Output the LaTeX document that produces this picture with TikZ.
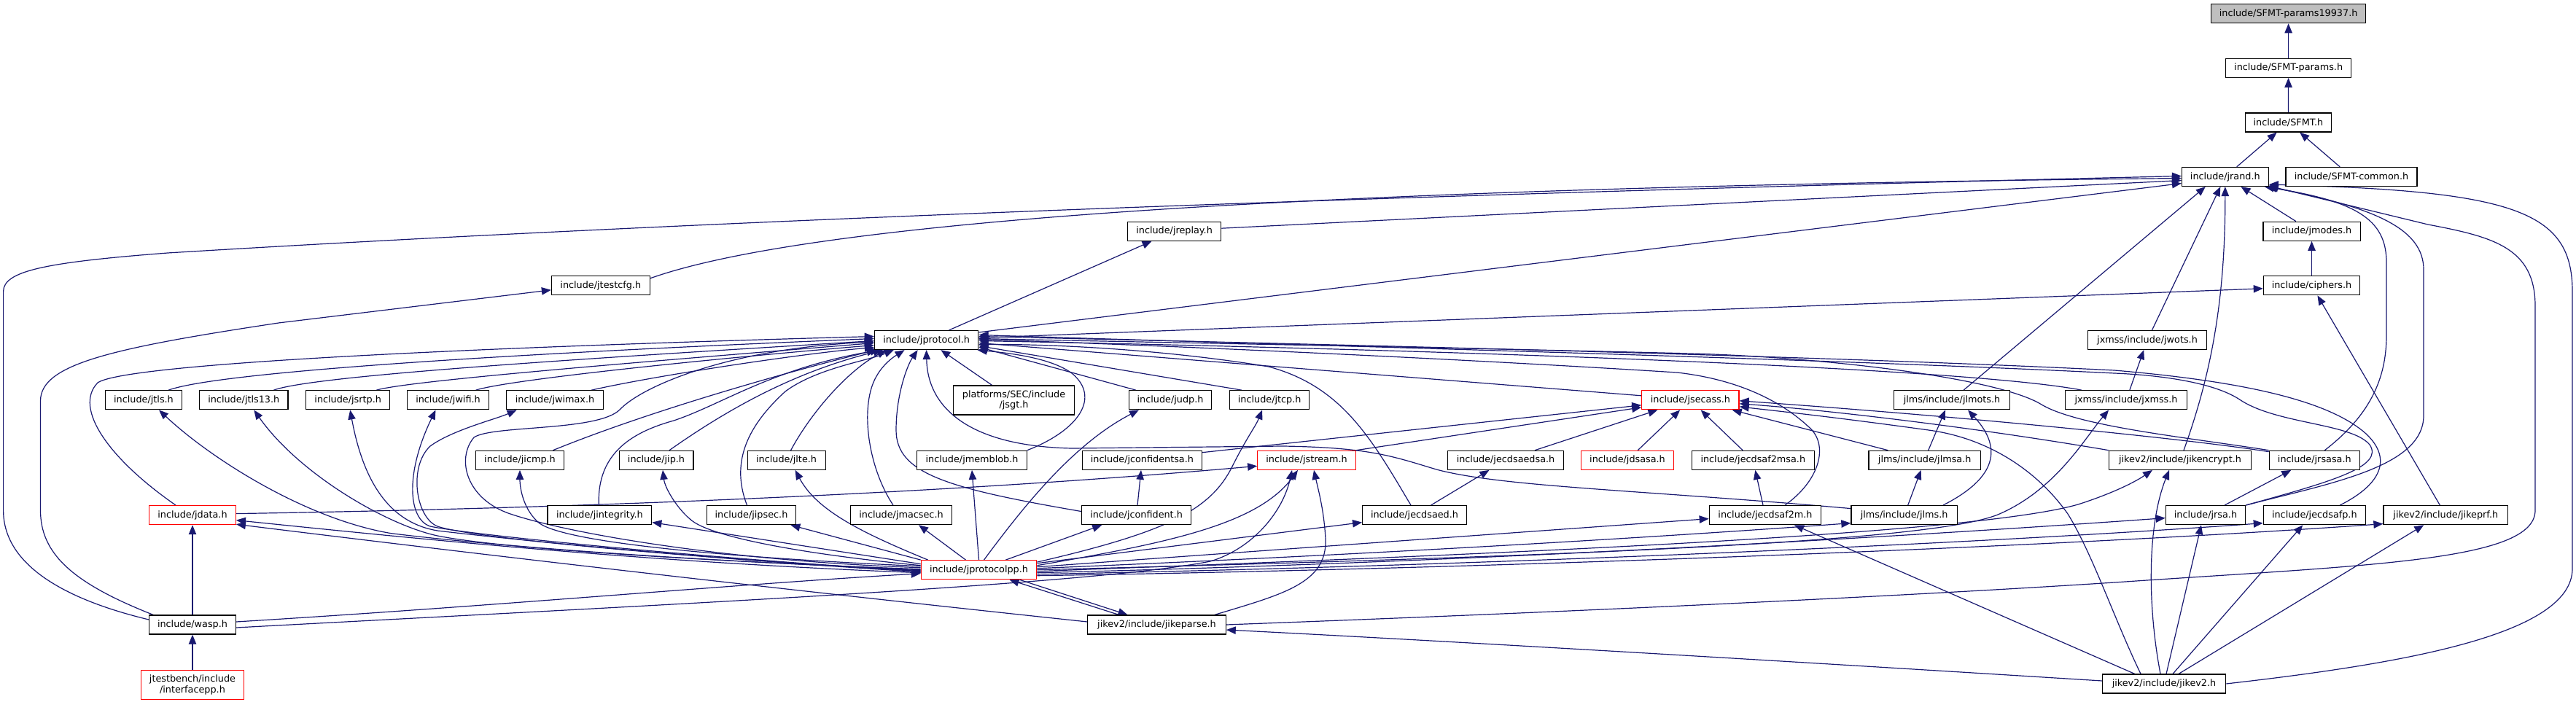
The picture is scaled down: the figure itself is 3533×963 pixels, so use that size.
\documentclass[tikz,border=0pt]{standalone}
\usepackage{fontspec}
\setmainfont{DejaVu Sans}
\usetikzlibrary{arrows.meta,calc}
\pgfdeclarelayer{bg}
\pgfsetlayers{bg,main}
\definecolor{edgecol}{HTML}{191970}
\definecolor{rootfill}{HTML}{BFBFBF}
\definecolor{truncred}{HTML}{FF0000}
\tikzset{
  nd/.style={draw=black, line width=0.6pt, fill=white, inner sep=0pt,
    minimum height=13pt, font=\fontsize{6.4}{7.15}\selectfont, align=center},
  trunc/.style={draw=truncred},
  boxw/.style={minimum width=#1*0.5pt},
  twoline/.style={minimum height=20pt},
  edge/.style={draw=edgecol, line width=0.6pt, -{Triangle[length=6.5pt,width=5.2pt]}},
}
\begin{document}
\begin{tikzpicture}[x=0.5pt,y=-0.5pt]
\useasboundingbox (0,0) rectangle (3533,963);
% ---------- nodes ----------
\node[nd,fill=rootfill,boxw=212] (sfmt19937) at (3138.6,18.7) {include/SFMT-params19937.h};
\node[nd,boxw=172] (sfmtparams) at (3138.6,93.3) {include/SFMT-params.h};
\node[nd,boxw=117.5] (sfmt) at (3138.4,168) {include/SFMT.h};
\node[nd,boxw=118.7] (jrand) at (3051.8,242.5) {include/jrand.h};
\node[nd,boxw=180] (sfmtcommon) at (3225,242.5) {include/SFMT-common.h};
\node[nd,boxw=128.2] (jreplay) at (1610.6,317.2) {include/jreplay.h};
\node[nd,boxw=133.2] (jmodes) at (3170.5,317.2) {include/jmodes.h};
\node[nd,boxw=134.7] (jtestcfg) at (823.8,391.8) {include/jtestcfg.h};
\node[nd,boxw=132.4] (ciphers) at (3170.5,391.8) {include/ciphers.h};
\node[nd,boxw=142.4] (jprotocol) at (1270.6,466.5) {include/jprotocol.h};
\node[nd,boxw=163] (jwots) at (2945,466.5) {jxmss/include/jwots.h};
% rank 7
\node[nd,boxw=105.6] (jtls) at (197,548.8) {include/jtls.h};
\node[nd,boxw=121.3] (jtlsxiii) at (334.3,548.8) {include/jtls13.h};
\node[nd,boxw=114.8] (jsrtp) at (477.2,548.8) {include/jsrtp.h};
\node[nd,boxw=111.6] (jwifi) at (614.5,548.8) {include/jwifi.h};
\node[nd,boxw=133.6] (jwimax) at (761,548.8) {include/jwimax.h};
\node[nd,boxw=165.7,twoline] (jsgt) at (1390.5,549) {platforms/SEC/include\\/jsgt.h};
\node[nd,boxw=113.6] (judp) at (1605,548.8) {include/judp.h};
\node[nd,boxw=109.3] (jtcp) at (1741.2,548.8) {include/jtcp.h};
\node[nd,trunc,boxw=133.3] (jsecass) at (2318.4,548.8) {include/jsecass.h};
\node[nd,boxw=158.4] (jlmots) at (2677,548.8) {jlms/include/jlmots.h};
\node[nd,boxw=166.5] (jxmss) at (2916,548.8) {jxmss/include/jxmss.h};
% rank 8
\node[nd,boxw=121.7] (jicmp) at (713,631.3) {include/jicmp.h};
\node[nd,boxw=101.8] (jip) at (900,631.3) {include/jip.h};
\node[nd,boxw=107] (jlte) at (1078.6,631.3) {include/jlte.h};
\node[nd,boxw=150.4] (jmemblob) at (1333,631.3) {include/jmemblob.h};
\node[nd,boxw=163.8] (jconfidentsa) at (1566.4,631.3) {include/jconfidentsa.h};
\node[nd,trunc,boxw=134.5] (jstream) at (1792,631.3) {include/jstream.h};
\node[nd,boxw=158.8] (jecdsaedsa) at (2065,631.3) {include/jecdsaedsa.h};
\node[nd,trunc,boxw=126.7] (jdsasa) at (2232,631.3) {include/jdsasa.h};
\node[nd,boxw=168.2] (jecdsafmsa) at (2404.3,631.3) {include/jecdsaf2msa.h};
\node[nd,boxw=153.5] (jlmsa) at (2639.7,631.3) {jlms/include/jlmsa.h};
\node[nd,boxw=194.8] (jikencrypt) at (2990,631.3) {jikev2/include/jikencrypt.h};
\node[nd,boxw=124] (jrsasa) at (3174.3,631.3) {include/jrsasa.h};
% rank 9
\node[nd,trunc,boxw=118.6] (jdata) at (264,706.6) {include/jdata.h};
\node[nd,boxw=142.7] (jintegrity) at (822.4,706.6) {include/jintegrity.h};
\node[nd,boxw=122.5] (jipsec) at (1030.5,706.6) {include/jipsec.h};
\node[nd,boxw=139] (jmacsec) at (1236,706.6) {include/jmacsec.h};
\node[nd,boxw=149.6] (jconfident) at (1558.6,706.6) {include/jconfident.h};
\node[nd,boxw=142.7] (jecdsaed) at (1940,706.6) {include/jecdsaed.h};
\node[nd,boxw=153.5] (jecdsafm) at (2421,706.6) {include/jecdsaf2m.h};
\node[nd,boxw=145.4] (jlms) at (2611.6,706.6) {jlms/include/jlms.h};
\node[nd,boxw=109.4] (jrsa) at (3025,706.6) {include/jrsa.h};
\node[nd,boxw=140] (jecdsafp) at (3174.3,706.6) {include/jecdsafp.h};
\node[nd,boxw=170.7] (jikeprf) at (3354.3,706.6) {jikev2/include/jikeprf.h};
% lower ranks
\node[nd,trunc,boxw=158.5] (jprotocolpp) at (1342.5,781.7) {include/jprotocolpp.h};
\node[nd,boxw=118.6] (wasp) at (264,857) {include/wasp.h};
\node[nd,boxw=189.4] (jikeparse) at (1586.5,857) {jikev2/include/jikeparse.h};
\node[nd,trunc,boxw=141.2,twoline] (jtestbench) at (264,939.5) {jtestbench/include\\/interfacepp.h};
\node[nd,boxw=169.3] (jikev) at (2968,938) {jikev2/include/jikev2.h};

% ---------- edges ----------
\begin{pgfonlayer}{bg}
% top chain
\draw[edge] (sfmtparams) -- (sfmt19937);
\draw[edge] (sfmt) -- (sfmtparams);
\draw[edge] (jrand) -- (sfmt);
\draw[edge] (sfmtcommon) -- (sfmt);
\draw[edge] (jmodes) -- (jrand);
\draw[edge] (ciphers) -- (jmodes);
\draw[edge] (jwots) -- (jrand);
\draw[edge] (jxmss) -- (jwots);
\draw[edge] (jikeprf) -- (ciphers);
\draw[edge] (jprotocol) -- (jreplay);
% into jrand
\draw[edge] ($(jikencrypt.north)+(5,0)$) .. controls (3030,520) and (3052,420) .. (jrand.south);
\draw[edge] ($(jlmots.north)+(16,0)$) -- ($(jrand.south)+(-27,0)$);
\draw[edge] ($(jrsasa.north)+(14,0)$) .. controls (3250,570) and (3273,520) .. (3273,460) -- (3273,360) .. controls (3273,300) and (3230,276) .. ($(jrand.south east)+(-6,0)$);
\draw[edge] (jrsa.north east) .. controls (3200,662) and (3324,640) .. (3324,570) -- (3324,370) .. controls (3324,315) and (3260,285) .. ($(jrand.south east)+(-2,0)$);
\draw[edge] (jikeparse.east) .. controls (2300,834) and (2700,812) .. (2900,799) .. controls (3250,775) and (3477,770) .. (3477,700) -- (3477,420) .. controls (3477,340) and (3420,325) .. (3330,308) -- ($(jrand.south east)+(0,-1)$);
\draw[edge] (jikev.east) .. controls (3300,910) and (3528,870) .. (3528,780) -- (3528,400) .. controls (3528,290) and (3450,262) .. ($(jrand.south east)+(0,-3)$);
\draw[edge] ($(wasp.west)+(0,-7)$) .. controls (100,825) and (4.6,780) .. (4.6,700) -- (4.6,400) .. controls (4.6,372) and (60,360) .. (230,347) .. controls (1000,300) and (2000,265) .. ($(jrand.west)+(0,-1)$);
\draw[edge] ($(wasp.north west)+(6,0)$) .. controls (100,800) and (55.5,760) .. (55.5,700) -- (55.5,550) .. controls (55.5,500) and (150,478) .. (382,443) -- ($(jtestcfg.west)+(0,6)$);
\draw[edge] ($(jtestcfg.east)+(0,-10)$) .. controls (1150,290) and (2000,255) .. ($(jrand.west)+(0,2)$);
\draw[edge] ($(jreplay.east)+(0,-4)$) -- ($(jrand.west)+(0,5)$);
\draw[edge] ($(jprotocol.north east)+(0,3)$) -- ($(jrand.west)+(0,9)$);
\draw[edge] ($(jprotocol.east)+(0,-3)$) -- ($(ciphers.west)+(0,4)$);
% into jprotocol
\draw[edge] ($(jdata.north)+(-23,0)$) .. controls (150,630) and (100,560) .. (134,525) .. controls (170,500) and (600,478) .. ($(jprotocol.west)+(0,-5)$);
\draw[edge] ($(jtls.north)+(34,0)$) .. controls (300,510) and (700,485) .. ($(jprotocol.west)+(0,-2)$);
\draw[edge] ($(jtlsxiii.north)+(41,0)$) .. controls (430,515) and (800,492) .. ($(jprotocol.west)+(0,1)$);
\draw[edge] ($(jsrtp.north)+(39,0)$) .. controls (560,522) and (900,495) .. ($(jprotocol.west)+(0,4)$);
\draw[edge] ($(jwifi.north)+(38,0)$) .. controls (700,520) and (1000,490) .. ($(jprotocol.west)+(0,7)$);
\draw[edge] ($(jwimax.north)+(50,0)$) .. controls (900,515) and (1100,485) .. ($(jprotocol.west)+(0,10)$);
\draw[edge] ($(jicmp.north east)+(-16,0)$) .. controls (900,560) and (1100,505) .. ($(jprotocol.south west)+(3,0)$);
\draw[edge] ($(jintegrity.north)+(-1,0)$) .. controls (818,620) and (870,592) .. (924,577) .. controls (990,555) and (1060,505) .. ($(jprotocol.south west)+(8,0)$);
\draw[edge] ($(jip.north)+(18,0)$) .. controls (1000,560) and (1090,510) .. ($(jprotocol.south west)+(12,0)$);
\draw[edge] ($(jlte.north)+(6,0)$) .. controls (1110,570) and (1160,510) .. ($(jprotocol.south west)+(17,0)$);
\draw[edge] ($(jipsec.north)+(-6,0)$) .. controls (1000,630) and (1030,580) .. (1077,537) .. controls (1120,505) and (1190,495) .. ($(jprotocol.south west)+(27,0)$);
\draw[edge] ($(jmacsec.north)+(-11,0)$) .. controls (1190,640) and (1180,560) .. (1200,520) .. controls (1210,500) and (1225,490) .. ($(jprotocol.south)+(-30,0)$);
\draw[edge] ($(jconfident.west)+(0,-5)$) .. controls (1300,670) and (1229,650) .. (1229,590) .. controls (1229,540) and (1245,500) .. ($(jprotocol.south)+(-12,0)$);
\draw[edge] ($(jlms.west)+(0,-9)$) .. controls (2250,672) and (2060,668) .. (1970,644) .. controls (1910,626) and (1880,614) .. (1760,612) -- (1470,615) .. controls (1330,612) and (1272,560) .. (jprotocol.south);
\draw[edge] (jmemblob.north east) .. controls (1480,590) and (1510,545) .. (1470,512) .. controls (1440,490) and (1380,484) .. ($(jprotocol.south east)+(-2,0)$);
\draw[edge] (jsgt) -- (jprotocol);
\draw[edge] ($(judp.north)+(-47,0)$) -- ($(jprotocol.south east)+(0,-4)$);
\draw[edge] ($(jtcp.north)+(-38,0)$) -- ($(jprotocol.east)+(0,8)$);
\draw[edge] ($(jsecass.west)+(0,-6)$) -- ($(jprotocol.east)+(0,4)$);
\draw[edge] ($(jxmss.north west)+(23,0)$) .. controls (2700,505) and (2000,480) .. ($(jprotocol.east)+(0,1)$);
\draw[edge] ($(jecdsafm.north)+(27,0)$) .. controls (2495,660) and (2510,610) .. (2480,585) .. controls (2440,548) and (2380,520) .. (2300,511) .. controls (2000,492) and (1600,474) .. ($(jprotocol.east)+(0,-1)$);
\draw[edge] ($(jecdsaed.north)+(-5,0)$) .. controls (1880,600) and (1840,530) .. (1740,503) .. controls (1600,480) and (1450,472) .. ($(jprotocol.east)+(0,6)$);
\draw[edge] (jrsasa.north west) .. controls (3000,600) and (2850,585) .. (2800,555) .. controls (2740,518) and (2500,490) .. (2320,485) .. controls (2000,477) and (1600,470) .. ($(jprotocol.east)+(0,-2)$);
\draw[edge] ($(jecdsafp.north)+(35,0)$) .. controls (3265,665) and (3282,630) .. (3245,595) .. controls (3200,555) and (3100,525) .. (2900,508) .. controls (2500,488) and (1800,472) .. ($(jprotocol.east)+(0,-5)$);
\draw[edge] (jrsa.north east) .. controls (3200,660) and (3270,640) .. (3250,610) .. controls (3225,580) and (3120,582) .. (3070,547) .. controls (3030,522) and (2950,514) .. (2900,512) .. controls (2500,492) and (1800,474) .. ($(jprotocol.east)+(0,-7)$);
% from jprotocolpp
\draw[edge] ($(jprotocolpp.west)+(0,-3)$) .. controls (1000,770) and (780,732) .. (700,705) .. controls (640,685) and (625,630) .. (650,600) .. controls (675,583) and (820,592) .. (850,562) .. controls (880,530) and (1000,478) .. ($(jprotocol.west)+(0,2.5)$);
\draw[edge] ($(jprotocolpp.west)+(0,-1)$) .. controls (1000,772) and (700,752) .. (536,731.6) .. controls (420,712) and (290,630) .. ($(jtls.south)+(21,0)$);
\draw[edge] (jprotocolpp.west) .. controls (1000,770) and (700,755) .. (600,735) .. controls (530,720) and (410,650) .. ($(jtlsxiii.south)+(14,0)$);
\draw[edge] ($(jprotocolpp.west)+(0,1)$) .. controls (1000,770) and (700,740) .. (600,728) .. controls (540,718) and (500,670) .. ($(jsrtp.south)+(3,0)$);
\draw[edge] ($(jprotocolpp.west)+(0,2)$) .. controls (1000,768) and (650,735) .. (590,722) .. controls (560,712) and (555,650) .. ($(jwifi.south)+(-17,0)$);
\draw[edge] ($(jprotocolpp.west)+(0,3)$) .. controls (1000,768) and (650,740) .. (600,722) .. controls (570,710) and (560,640) .. (590,612) .. controls (620,590) and (680,575) .. ($(jwimax.south west)+(15,0)$);
\draw[edge] ($(jprotocolpp.west)+(0,-5)$) .. controls (1000,765) and (780,745) .. (740,718) .. controls (718,700) and (713,670) .. (jicmp.south);
\draw[edge] ($(jprotocolpp.west)+(0,-6)$) .. controls (1100,760) and (980,737) .. (950,715) .. controls (930,700) and (912,670) .. ($(jip.south)+(9,0)$);
\draw[edge] ($(jprotocolpp.north west)+(10,0)$) .. controls (1180,730) and (1120,700) .. ($(jlte.south)+(12,0)$);
\draw[edge] ($(jprotocolpp.west)+(0,-8)$) -- ($(jintegrity.east)+(0,10)$);
\draw[edge] (jprotocolpp.north west) -- ($(jipsec.south east)+(-8,0)$);
\draw[edge] ($(jprotocolpp.north)+(-18,0)$) -- ($(jmacsec.south)+(24,0)$);
\draw[edge] (jprotocolpp.north) -- (jmemblob.south);
\draw[edge] ($(jprotocolpp.north)+(7,0)$) .. controls (1400,700) and (1470,610) .. ($(judp.south)+(-43,0)$);
\draw[edge] ($(jprotocolpp.north east)+(-43,0)$) -- ($(jconfident.south west)+(28,0)$);
\draw[edge] ($(jprotocolpp.north east)+(0,3)$) .. controls (1600,730) and (1660,700) .. (1690,640) .. controls (1710,600) and (1722,585) .. ($(jtcp.south)+(-10,0)$);
\draw[edge] ($(jprotocolpp.east)+(0,-6)$) .. controls (1600,745) and (1725,720) .. ($(jstream.south)+(-12,0)$);
\draw[edge] ($(jprotocolpp.east)+(0,-9)$) -- ($(jecdsaed.west)+(0,10)$);
\draw[edge] ($(jprotocolpp.east)+(0,-4)$) -- ($(jecdsafm.west)+(0,5)$);
\draw[edge] ($(jprotocolpp.east)+(0,-2)$) .. controls (1900,760) and (2300,735) .. ($(jlms.west)+(0,11)$);
\draw[edge] (jprotocolpp.east) .. controls (2200,762) and (2650,742) .. (2740,706) .. controls (2820,672) and (2860,600) .. ($(jxmss.south west)+(60,0)$);
\draw[edge] ($(jprotocolpp.east)+(0,2)$) .. controls (2000,762) and (2700,735) .. (2850,692) .. controls (2900,676) and (2930,660) .. ($(jikencrypt.south west)+(60,0)$);
\draw[edge] ($(jprotocolpp.east)+(0,4)$) .. controls (2000,772) and (2600,737) .. ($(jrsa.west)+(0,4)$);
\draw[edge] ($(jprotocolpp.east)+(0,6)$) .. controls (2000,777) and (2700,747) .. ($(jecdsafp.west)+(0,11)$);
\draw[edge] ($(jprotocolpp.east)+(0,8)$) .. controls (2000,781) and (2800,752) .. ($(jikeprf.west)+(0,12)$);
\draw[edge] ($(jprotocolpp.west)+(0,4)$) .. controls (900,772) and (600,742) .. ($(jdata.east)+(0,7)$);
% jdata, wasp, jtestbench
\draw[edge] ($(jikeparse.west)+(0,-4)$) .. controls (1200,822) and (800,778) .. ($(jdata.south east)+(0,-1)$);
\draw[edge] ($(jdata.east)+(0,-2)$) .. controls (800,697) and (1300,677) .. ($(jstream.west)+(0,8)$);
\draw[edge] (wasp) -- (jdata);
\draw[edge] (jtestbench) -- (wasp);
\draw[edge] ($(wasp.east)+(0,-4)$) .. controls (700,830) and (1000,802) .. ($(jprotocolpp.west)+(0,5)$);
\draw[edge] ($(wasp.east)+(0,4)$) .. controls (900,830) and (1500,802) .. (1660,770) .. controls (1720,752) and (1760,700) .. ($(jstream.south)+(-20,0)$);
% jikeparse
\draw[edge] ($(jikeparse.north)+(-52,0)$) -- ($(jprotocolpp.south)+(42,0)$);
\draw[edge] ($(jprotocolpp.south)+(56,0)$) -- ($(jikeparse.north)+(-40,0)$);
\draw[edge] ($(jikeparse.north east)+(-16,0)$) .. controls (1760,815) and (1820,800) .. (1818,740) .. controls (1816,700) and (1808,672) .. ($(jstream.south)+(10,0)$);
% jikev2
\draw[edge] ($(jikev.west)+(0,-4)$) .. controls (2500,910) and (2000,880) .. ($(jikeparse.east)+(0,7)$);
\draw[edge] ($(jikev.north)+(-32,0)$) .. controls (2900,850) and (2870,760) .. (2836,705) .. controls (2790,640) and (2720,600) .. (2645,590) .. controls (2500,570) and (2420,562) .. ($(jsecass.east)+(0,9)$);
\draw[edge] ($(jikev.north west)+(45,0)$) -- ($(jecdsafm.south)+(40,0)$);
\draw[edge] ($(jikev.north)+(-5,0)$) .. controls (2945,830) and (2945,720) .. ($(jikencrypt.south)+(-15,0)$);
\draw[edge] ($(jikev.north)+(3,0)$) -- ($(jrsa.south)+(-6,0)$);
\draw[edge] ($(jikev.north)+(12,0)$) -- ($(jecdsafp.south)+(-16,0)$);
\draw[edge] ($(jikev.north)+(20,0)$) -- ($(jikeprf.south)+(-30,0)$);
% jsecass family
\draw[edge] ($(jrsa.north)+(26,0)$) -- ($(jrsasa.south)+(-32,0)$);
\draw[edge] (jikencrypt.north west) .. controls (2700,585) and (2500,562) .. ($(jsecass.east)+(0,5)$);
\draw[edge] ($(jrsasa.north west)+(0,2)$) .. controls (3000,602) and (2700,572) .. ($(jsecass.east)+(0,1)$);
\draw[edge] ($(jlmsa.north west)+(27,0)$) -- ($(jsecass.south east)+(-10,0)$);
\draw[edge] ($(jlmsa.north)+(5,0)$) -- ($(jlmots.south)+(-9,0)$);
\draw[edge] (jlms) -- (jlmsa);
\draw[edge] ($(jlms.north east)+(-20,0)$) .. controls (2730,660) and (2752,620) .. ($(jlmots.south)+(22,0)$);
\draw[edge] (jecdsafmsa) -- (jsecass);
\draw[edge] (jecdsafm) -- (jecdsafmsa);
\draw[edge] (jdsasa) -- (jsecass);
\draw[edge] ($(jecdsaedsa.north)+(40,0)$) -- ($(jsecass.south)+(-45,0)$);
\draw[edge] (jecdsaed) -- (jecdsaedsa);
\draw[edge] (jstream.north east) -- ($(jsecass.west)+(0,10)$);
\draw[edge] ($(jconfidentsa.north east)+(0,3)$) -- ($(jsecass.west)+(0,7)$);
\draw[edge] (jconfident) -- (jconfidentsa);
\end{pgfonlayer}
\end{tikzpicture}
\end{document}
